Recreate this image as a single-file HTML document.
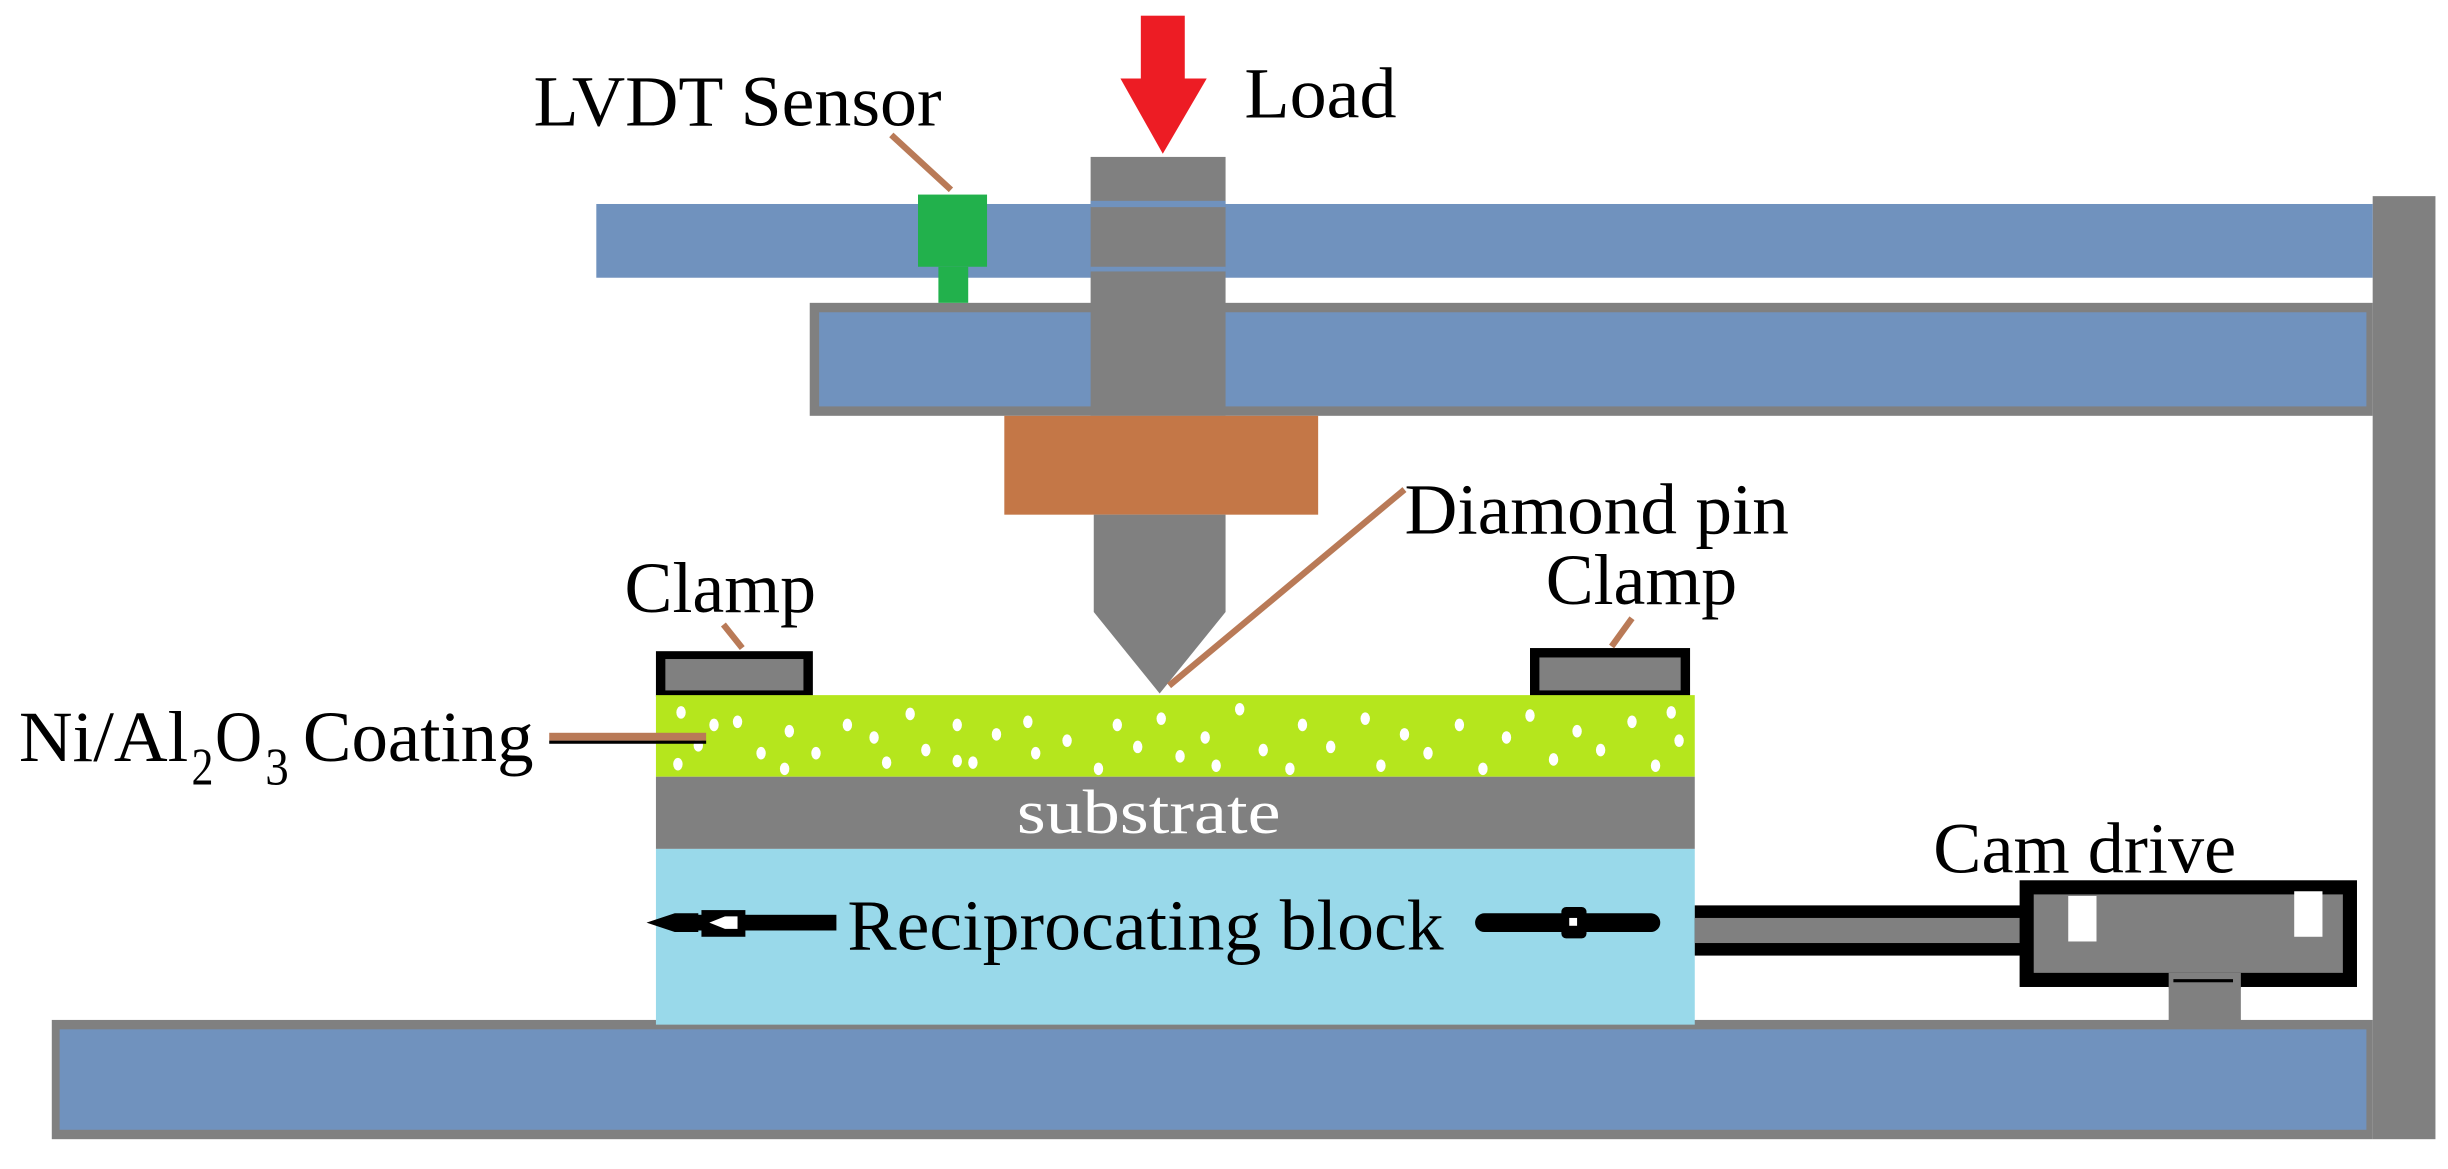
<!DOCTYPE html>
<html><head><meta charset="utf-8"><style>
html,body{margin:0;padding:0;background:#fff;}
svg{display:block;}
text{font-family:"Liberation Serif",serif;fill:#000;}
</style></head><body>
<svg width="2448" height="1169" viewBox="0 0 1560 745" preserveAspectRatio="none" xmlns="http://www.w3.org/2000/svg">
<rect x="1512" y="125" width="40" height="601" fill="#808080"/>
<rect x="380" y="130" width="1132" height="47" fill="#7092be"/>
<rect x="516" y="193" width="996" height="72" fill="#808080"/>
<rect x="522" y="199" width="986" height="60" fill="#7092be"/>
<rect x="33" y="650" width="1479" height="76" fill="#808080"/>
<rect x="38" y="656" width="1470" height="64" fill="#7092be"/>
<rect x="695" y="100" width="86" height="165" fill="#808080"/>
<rect x="695" y="128" width="86" height="4" fill="#7092be"/>
<rect x="695" y="170" width="86" height="3" fill="#7092be"/>
<rect x="640" y="265" width="200" height="63" fill="#c47747"/>
<polygon points="697,328 781,328 781,390 739,442 697,390" fill="#808080"/>
<rect x="727" y="10" width="28" height="42" fill="#ed1c24"/>
<polygon points="714,50 769,50 741,98" fill="#ed1c24"/>
<rect x="585" y="124" width="44" height="46" fill="#22b14c"/>
<rect x="598" y="170" width="19" height="23" fill="#22b14c"/>
<line x1="568" y1="86" x2="606" y2="121" stroke="#b97a57" stroke-width="4"/>
<text x="340" y="80" font-size="46" textLength="260" lengthAdjust="spacingAndGlyphs">LVDT Sensor</text>
<text x="793" y="75" font-size="46" textLength="97" lengthAdjust="spacingAndGlyphs">Load</text>
<text x="895" y="340" font-size="46" textLength="245" lengthAdjust="spacingAndGlyphs">Diamond pin</text>
<line x1="895" y1="312" x2="745" y2="437" stroke="#b97a57" stroke-width="4"/>
<rect x="418" y="415" width="100" height="29" fill="#000"/>
<rect x="424" y="420" width="88" height="20" fill="#808080"/>
<rect x="975" y="413" width="102" height="31" fill="#000"/>
<rect x="981" y="419" width="90" height="21" fill="#808080"/>
<text x="398" y="390" font-size="46" textLength="122" lengthAdjust="spacingAndGlyphs">Clamp</text>
<text x="985" y="385" font-size="46" textLength="122" lengthAdjust="spacingAndGlyphs">Clamp</text>
<line x1="461" y1="398" x2="473" y2="413" stroke="#b97a57" stroke-width="4"/>
<line x1="1040" y1="394" x2="1027" y2="412" stroke="#b97a57" stroke-width="4"/>
<rect x="418" y="443" width="662" height="52" fill="#b5e61d"/>
<g fill="#fff">
<ellipse cx="434" cy="454" rx="3" ry="4"/><ellipse cx="470" cy="460" rx="3" ry="4"/><ellipse cx="445" cy="475" rx="3" ry="4"/><ellipse cx="432" cy="487" rx="3" ry="4"/>
<ellipse cx="485" cy="480" rx="3" ry="4"/><ellipse cx="503" cy="466" rx="3" ry="4"/><ellipse cx="520" cy="480" rx="3" ry="4"/><ellipse cx="500" cy="490" rx="3" ry="4"/>
<ellipse cx="540" cy="462" rx="3" ry="4"/><ellipse cx="557" cy="470" rx="3" ry="4"/><ellipse cx="565" cy="486" rx="3" ry="4"/><ellipse cx="580" cy="455" rx="3" ry="4"/>
<ellipse cx="590" cy="478" rx="3" ry="4"/><ellipse cx="610" cy="462" rx="3" ry="4"/><ellipse cx="620" cy="486" rx="3" ry="4"/><ellipse cx="635" cy="468" rx="3" ry="4"/>
<ellipse cx="655" cy="460" rx="3" ry="4"/><ellipse cx="660" cy="480" rx="3" ry="4"/><ellipse cx="680" cy="472" rx="3" ry="4"/><ellipse cx="700" cy="490" rx="3" ry="4"/>
<ellipse cx="712" cy="462" rx="3" ry="4"/><ellipse cx="725" cy="476" rx="3" ry="4"/><ellipse cx="740" cy="458" rx="3" ry="4"/><ellipse cx="752" cy="482" rx="3" ry="4"/>
<ellipse cx="768" cy="470" rx="3" ry="4"/><ellipse cx="790" cy="452" rx="3" ry="4"/><ellipse cx="805" cy="478" rx="3" ry="4"/><ellipse cx="822" cy="490" rx="3" ry="4"/>
<ellipse cx="830" cy="462" rx="3" ry="4"/><ellipse cx="848" cy="476" rx="3" ry="4"/><ellipse cx="870" cy="458" rx="3" ry="4"/><ellipse cx="880" cy="488" rx="3" ry="4"/>
<ellipse cx="895" cy="468" rx="3" ry="4"/><ellipse cx="910" cy="480" rx="3" ry="4"/><ellipse cx="930" cy="462" rx="3" ry="4"/><ellipse cx="945" cy="490" rx="3" ry="4"/>
<ellipse cx="960" cy="470" rx="3" ry="4"/><ellipse cx="975" cy="456" rx="3" ry="4"/><ellipse cx="990" cy="484" rx="3" ry="4"/><ellipse cx="1005" cy="466" rx="3" ry="4"/>
<ellipse cx="1020" cy="478" rx="3" ry="4"/><ellipse cx="1040" cy="460" rx="3" ry="4"/><ellipse cx="1055" cy="488" rx="3" ry="4"/><ellipse cx="1065" cy="454" rx="3" ry="4"/>
<ellipse cx="1070" cy="472" rx="3" ry="4"/><ellipse cx="455" cy="462" rx="3" ry="4"/><ellipse cx="610" cy="485" rx="3" ry="4"/><ellipse cx="775" cy="488" rx="3" ry="4"/>
</g>
<text x="12" y="485" font-size="46" textLength="108" lengthAdjust="spacingAndGlyphs">Ni/Al</text>
<text x="122" y="500" font-size="34" textLength="14" lengthAdjust="spacingAndGlyphs">2</text>
<text x="137" y="485" font-size="46" textLength="30" lengthAdjust="spacingAndGlyphs">O</text>
<text x="169" y="500" font-size="34" textLength="15" lengthAdjust="spacingAndGlyphs">3</text>
<text x="193" y="485" font-size="46" textLength="147" lengthAdjust="spacingAndGlyphs">Coating</text>
<rect x="350" y="467" width="100" height="5" fill="#b97a57"/>
<rect x="350" y="472" width="100" height="2" fill="#000"/>
<rect x="418" y="495" width="662" height="46" fill="#808080"/>
<text x="648" y="531" font-size="40" style="fill:#fff" textLength="168" lengthAdjust="spacingAndGlyphs">substrate</text>
<rect x="418" y="541" width="662" height="112" fill="#99d9ea"/>
<text x="540" y="605" font-size="46" textLength="380" lengthAdjust="spacingAndGlyphs">Reciprocating block</text>
<rect x="440" y="583" width="93" height="10" fill="#000"/>
<polygon points="412,588 430,582 445,582 445,594 430,594" fill="#000"/>
<rect x="447" y="580" width="28" height="17" fill="#000"/>
<polygon points="452,588 462,584 470,584 470,592 462,592" fill="#fff"/>
<rect x="940" y="582" width="118" height="12" rx="6" fill="#000"/>
<rect x="995" y="578" width="16" height="20" rx="3" fill="#000"/>
<rect x="1000" y="585" width="5" height="5" fill="#fff"/>
<rect x="1080" y="577" width="210" height="32" fill="#000"/>
<rect x="1080" y="585" width="210" height="16" fill="#808080"/>
<rect x="1382" y="625" width="46" height="30" fill="#808080"/>
<rect x="1287" y="561" width="215" height="68" fill="#000"/>
<rect x="1296" y="570" width="197" height="50" fill="#808080"/>
<rect x="1318" y="571" width="18" height="29" fill="#fff"/>
<rect x="1462" y="568" width="18" height="29" fill="#fff"/>
<rect x="1382" y="620" width="46" height="10" fill="#808080"/>
<rect x="1385" y="624" width="38" height="2" fill="#000"/>
<text x="1232" y="556" font-size="46" textLength="193" lengthAdjust="spacingAndGlyphs">Cam drive</text>
</svg>
</body></html>
